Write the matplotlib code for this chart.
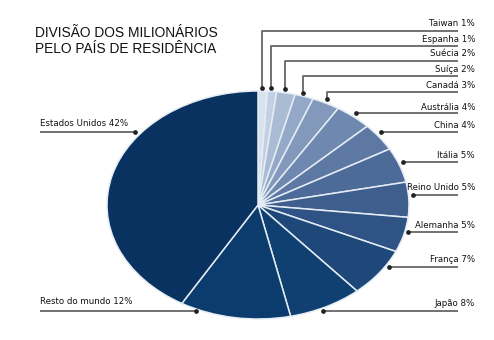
import matplotlib.pyplot as plt

countries = ["Taiwan", "Espanha", "Suécia", "Suíça", "Canadá", "Austrália", "China",
             "Itália", "Reino Unido", "Alemanha", "França", "Japão", "Resto do mundo",
             "Estados Unidos"]
shares = [1, 1, 2, 2, 3, 4, 4, 5, 5, 5, 7, 8, 12, 42]
colors = ["#dae2ee", "#c3d0e2", "#aabcd4", "#94a9c7", "#8399bb", "#6e88af", "#5d79a3",
          "#4d6b98", "#3e5f8e", "#2f5384", "#1e477a", "#103f72", "#0c3b6d", "#0a3261"]

W, H = 494, 340
fig = plt.figure(figsize=(W / 100, H / 100), dpi=100)

# pie occupies an ellipse 300 x 228 px centred at (258, 205)
cx, cy, rx, ry = 258, 205, 151, 114
ax = fig.add_axes([(cx - rx) / W, 1 - (cy + ry) / H, 2 * rx / W, 2 * ry / H])
ax.pie(shares, colors=colors, startangle=90, counterclock=False,
       wedgeprops=dict(edgecolor="#e4ecf4", linewidth=1.1))
ax.set_aspect("auto")
ax.set_xlim(-1, 1)
ax.set_ylim(-1, 1)

# overlay axes in pixel coordinates for title and leader lines
ov = fig.add_axes([0, 0, 1, 1], zorder=5)
ov.set_xlim(0, W)
ov.set_ylim(H, 0)
ov.axis("off")
ov.patch.set_alpha(0)

ov.text(126, 41, "DIVISÃO DOS MILIONÁRIOS\nPELO PAÍS DE RESIDÊNCIA", ha="center",
        va="center", fontsize=9.9, family="Liberation Sans", linespacing=1.25,
        color="#111111")

# label positions: (text y, line y, line end x, vertical drop end y or None)
right_labels = [
    (24, 31, 262, 88), (39, 46, 271, 88), (54, 61, 285, 89), (70, 76, 303, 93),
    (85, 92, 327, 99), (107, 113, 356, None), (126, 132, 381, None),
    (155, 162, 403, None), (188, 195, 413, None), (225, 232, 408, None),
    (260, 267, 389, None), (303, 311, 323, None),
]
line_kw = dict(color="#666666", lw=1.3, solid_capstyle="butt")
dot_kw = dict(marker="o", ms=2.4, color="#222222")

for name, val, (ty, ly, lx, drop) in zip(countries[:12], shares[:12], right_labels):
    ov.text(475, ty, f"{name} {val}%", ha="right", va="center", fontsize=6.2,
            family="DejaVu Sans", color="#111111")
    if drop is None:
        ov.plot([458, lx], [ly, ly], **line_kw)
        ov.plot([lx], [ly], **dot_kw)
    else:
        ov.plot([458, lx, lx], [ly, ly, drop], **line_kw)
        ov.plot([lx], [drop], **dot_kw)

left_labels = [(302, 311, 196), (123, 132, 135)]
for name, val, (ty, ly, lx) in zip(countries[12:], shares[12:], left_labels):
    ov.text(40, ty, f"{name} {val}%", ha="left", va="center", fontsize=6.2,
            family="DejaVu Sans", color="#111111")
    ov.plot([40, lx], [ly, ly], **line_kw)
    ov.plot([lx], [ly], **dot_kw)

fig.savefig("out.png", dpi=100)
